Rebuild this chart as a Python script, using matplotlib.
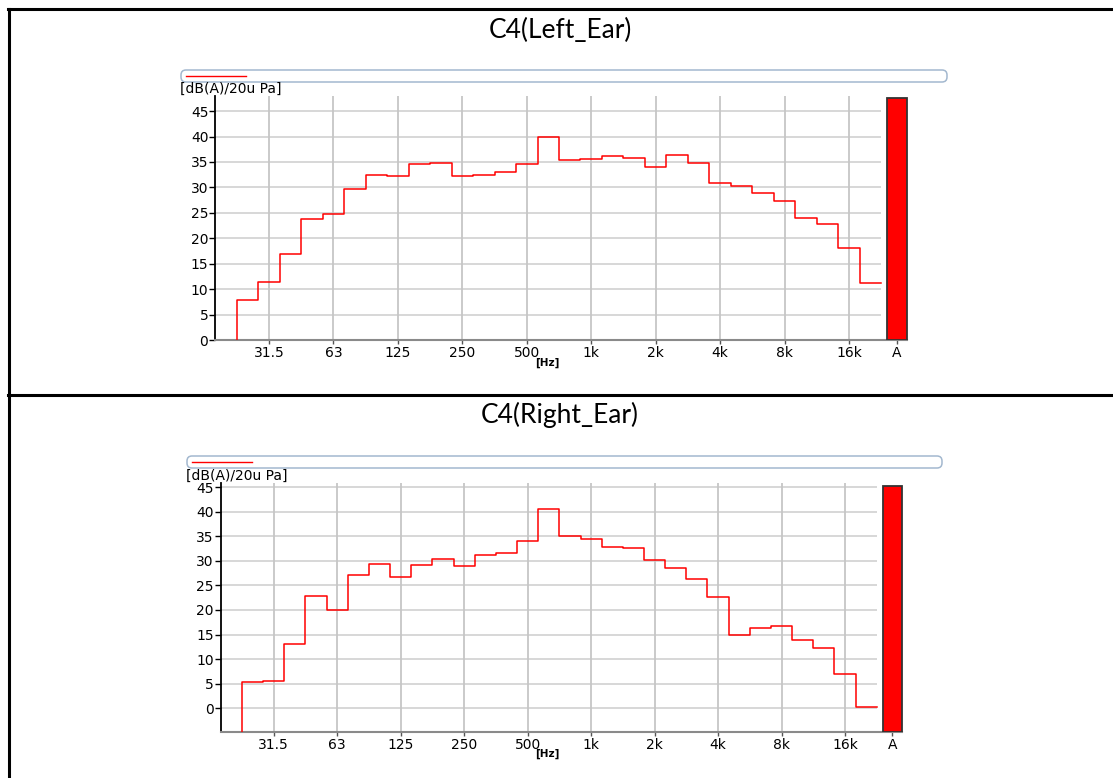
import numpy as np
import matplotlib.pyplot as plt
from matplotlib.lines import Line2D
from matplotlib.patches import FancyBboxPatch

# 1/3-octave band centres and levels per ear, dB(A)
bands = ["25", "31.5", "40", "50", "63", "80", "100", "125", "160", "200", "250", "315", "400", "500", "630",
         "800", "1k", "1.25k", "1.6k", "2k", "2.5k", "3.15k", "4k", "5k", "6.3k", "8k", "10k", "12.5k", "16k", "20k"]
left_ear = [7.8, 11.4, 17.0, 23.7, 24.7, 29.7, 32.4, 32.2, 34.5, 34.7, 32.2, 32.5, 33.0, 34.5, 40.0,
            35.3, 35.5, 36.1, 35.7, 34.1, 36.3, 34.7, 30.9, 30.2, 28.8, 27.4, 24.0, 22.8, 18.1, 11.2]
right_ear = [5.3, 5.5, 13.0, 22.9, 19.9, 27.2, 29.3, 26.8, 29.2, 30.3, 28.9, 31.1, 31.5, 34.0, 40.5,
             35.0, 34.4, 32.9, 32.7, 30.2, 28.5, 26.3, 22.6, 15.0, 16.3, 16.8, 13.9, 12.2, 6.9, 0.2]
left_total = 47.5
right_total = 45.2
octave_labels = ["31.5", "63", "125", "250", "500", "1k", "2k", "4k", "8k", "16k"]
yticks = [0, 5, 10, 15, 20, 25, 30, 35, 40, 45]

W, H = 1113, 778
fig = plt.figure(figsize=(W / 100, H / 100), dpi=100)
fig.patch.set_facecolor("white")
inch = fig.dpi_scale_trans


def px(x, y):
    # pixel position (from top-left) -> inches for dpi_scale_trans
    return x / 100, (H - y) / 100


def panel(box, values, total, ylim, title, title_y, legend_box, unit_xy, hz_xy):
    l, t, r, b = box
    ax = fig.add_axes([l / W, 1 - b / H, (r - l) / W, (b - t) / H])
    ax.set_xlim(-1.5, 31)
    ax.set_ylim(*ylim)

    n = len(values)
    edges = np.arange(n + 1) - 0.5
    xs = np.r_[edges[0], edges]
    ys = np.r_[ylim[0], values, values[-1]]

    octs = [bands.index(o) for o in octave_labels]
    ax.hlines(yticks, -1.5, n - 0.5, color="#d4d4d4", lw=1.3, zorder=0)
    ax.vlines(octs, ylim[0], ylim[1], color="#c6c6c6", lw=1.3, zorder=0)

    ax.plot(xs, ys, drawstyle="steps-post", color="red", lw=1.1, zorder=3)
    ax.bar(30.23, total - ylim[0], bottom=ylim[0], width=0.9, color="red",
           edgecolor="#333333", lw=1.3, zorder=3)

    ax.set_xticks(octs + [30.23], octave_labels + ["A"])
    ax.set_yticks(yticks)
    ax.tick_params(axis="x", length=3, width=1, color="#555555", labelsize=10, pad=1.5)
    ax.tick_params(axis="y", length=4, width=1, color="black", labelsize=10, pad=1)
    for s in ("top", "right"):
        ax.spines[s].set_visible(False)
    ax.spines["left"].set_linewidth(1.3)
    ax.spines["bottom"].set_color("#8a8a8a")
    ax.spines["bottom"].set_linewidth(1.5)
    ax.spines["bottom"].set_bounds(-1.5, 30.7)

    # title above each panel
    fig.text(560 / W, 1 - title_y / H, title, ha="center", va="center",
             fontsize=19, family="Lato")

    # empty legend frame with red sample line
    bx0, by0, bx1, by1 = legend_box
    fig.add_artist(FancyBboxPatch(px(bx0, by1), (bx1 - bx0) / 100, (by1 - by0) / 100,
                                  boxstyle="round,pad=0,rounding_size=0.05", transform=inch,
                                  facecolor="white", edgecolor="#a3b8cf", lw=1.1))
    ly = (by0 + by1) / 2
    (x0, y0), (x1, _) = px(bx0 + 5, ly), px(bx0 + 65, ly)
    fig.add_artist(Line2D([x0, x1], [y0, y0], transform=inch, color="red", lw=1))

    fig.text(unit_xy[0] / W, 1 - unit_xy[1] / H, "[dB(A)/20u Pa]", ha="left", va="center", fontsize=10)
    fig.text(hz_xy[0] / W, 1 - hz_xy[1] / H, "[Hz]", ha="center", va="center", fontsize=7.5, weight="bold")
    return ax


panel((215.3, 95.8, 913.4, 340.0), left_ear, left_total, (0, 48), "C4(Left_Ear)", 30,
      (181, 70, 947, 82), (180, 89), (547, 363))
panel((220.8, 482.6, 908.5, 731.7), right_ear, right_total, (-4.75, 45.9), "C4(Right_Ear)", 415,
      (187, 456, 942, 468), (186, 476), (547, 754))

# table borders around the two cells
for seg in [((8, 9), (W, 9)), ((8, 395), (W, 395)), ((8.5, 9), (8.5, H))]:
    (xa, ya), (xb, yb) = px(*seg[0]), px(*seg[1])
    fig.add_artist(Line2D([xa, xb], [ya, yb], transform=inch, color="black", lw=2.2))

fig.savefig("out.png", dpi=100)
